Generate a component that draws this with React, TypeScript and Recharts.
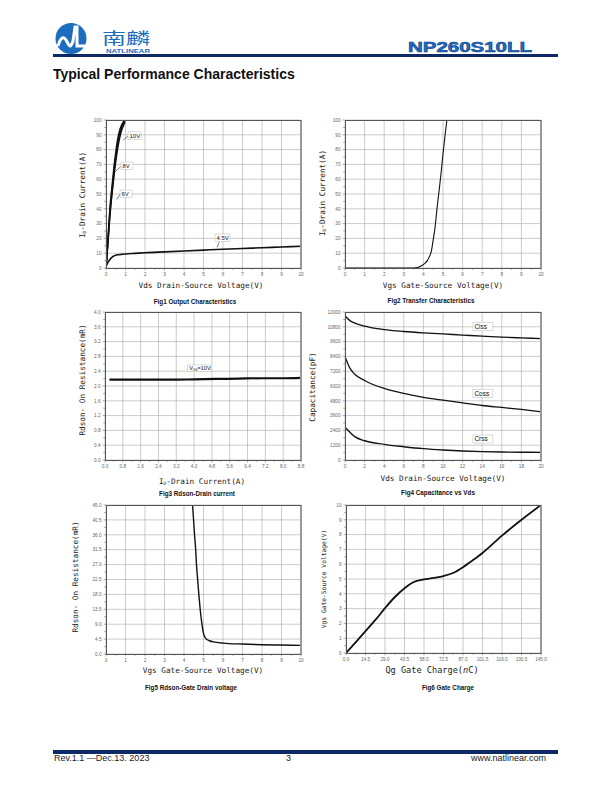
import React from "react";
import {
  LineChart,
  Line,
  XAxis,
  YAxis,
  CartesianGrid,
  ReferenceDot,
  ReferenceLine,
} from "recharts";

// Fig1 output characteristics (Vds in V, Id in A)
const fig1Vds = [0, 0.05, 0.1, 0.15, 0.2, 0.3, 0.4, 0.5, 0.6, 0.7, 0.8, 0.9, 0.97];
const fig1Id10V = [0, 10, 20, 30, 40, 54, 67, 78, 87, 93, 96.5, 98.8, 100];
const fig1Id8V = [0, 9, 18, 28, 37, 51, 64, 75, 84, 90.5, 95, 98, 99.5];
const fig1Id6V = [0, 8.5, 17, 26, 35, 49, 61, 72, 81, 88, 93, 96.5, 98.5];
const fig1Vds45 = [0, 0.05, 0.1, 0.2, 0.3, 0.4, 0.5, 0.6, 0.8, 1, 1.5, 2, 3, 4, 5, 6, 7, 8, 9, 10];
const fig1Id45V = [1, 2.5, 3.8, 5.8, 7.2, 8.1, 8.6, 8.9, 9.2, 9.5, 9.9, 10.3, 10.9, 11.5, 12.1, 12.7, 13.2, 13.7, 14.2, 14.7];
const fig1XTicks = [0, 1, 2, 3, 4, 5, 6, 7, 8, 9, 10];
const fig1YTicks = [0, 10, 20, 30, 40, 50, 60, 70, 80, 90, 100];

// Fig2 transfer characteristics
const fig2Vgs = [0, 1, 2, 3, 3.5, 3.7, 3.9, 4.1, 4.2, 4.3, 4.4, 4.5, 4.6, 4.7, 4.8, 4.9, 5.0, 5.1, 5.2];
const fig2Id = [0, 0, 0, 0, 0, 0.3, 1.5, 3.5, 5, 7.5, 11, 19, 28, 41, 52, 64, 77, 89, 100];
const fig2XTicks = [0, 1, 2, 3, 4, 5, 6, 7, 8, 9, 10];
const fig2YTicks = [0, 10, 20, 30, 40, 50, 60, 70, 80, 90, 100];

// Fig3 Rdson vs drain current
const fig3Id = [0.2, 1, 2, 3, 4, 5, 6, 7, 8, 8.8];
const fig3Rds = [2.17, 2.17, 2.17, 2.17, 2.18, 2.19, 2.2, 2.21, 2.21, 2.22];
const fig3XTicks = [0, 0.8, 1.6, 2.4, 3.2, 4.0, 4.8, 5.6, 6.4, 7.2, 8.0, 8.8];
const fig3YTicks = [0, 0.4, 0.8, 1.2, 1.6, 2.0, 2.4, 2.8, 3.2, 3.6, 4.0];

// Fig4 capacitance vs Vds (pF)
const fig4Vds = [0, 0.5, 1, 2, 4, 6, 8, 10, 12, 14, 16, 18, 20];
const fig4Ciss = [11700, 11300, 11100, 10850, 10570, 10420, 10310, 10220, 10130, 10040, 9960, 9900, 9840];
const fig4Coss = [8400, 7450, 6950, 6450, 5800, 5400, 5080, 4850, 4640, 4420, 4260, 4100, 3910];
const fig4Crss = [2650, 2250, 1900, 1560, 1270, 1080, 920, 810, 730, 680, 650, 630, 620];
const fig4XTicks = [0, 2, 4, 6, 8, 10, 12, 14, 16, 18, 20];
const fig4YTicks = [0, 1200, 2400, 3600, 4800, 6000, 7200, 8400, 9600, 10800, 12000];

// Fig5 Rdson vs Vgs
const fig5Vgs = [4.44, 4.54, 4.6, 4.64, 4.7, 4.76, 4.83, 4.92, 5.0, 5.1, 5.3, 5.6, 6, 7, 8, 9, 10];
const fig5Rds = [45, 36, 31.5, 27, 22.5, 18, 13.5, 9, 6.2, 4.8, 4.0, 3.6, 3.3, 3.0, 2.8, 2.7, 2.6];
const fig5XTicks = [0, 1, 2, 3, 4, 5, 6, 7, 8, 9, 10];
const fig5YTicks = [0, 4.5, 9, 13.5, 18, 22.5, 27, 31.5, 36, 40.5, 45];

// Fig6 gate charge
const fig6Qg = [0, 7, 14.5, 22, 29, 36, 43.5, 50, 58, 65, 72.5, 80, 87, 94, 101.5, 116, 130.5, 145];
const fig6Vgs = [0, 0.7, 1.48, 2.25, 3.03, 3.75, 4.38, 4.78, 4.97, 5.07, 5.2, 5.42, 5.8, 6.25, 6.76, 7.93, 9.0, 10];
const fig6XTicks = [0, 14.5, 29, 43.5, 58, 72.5, 87, 101.5, 116, 130.5, 145];
const fig6YTicks = [0, 1, 2, 3, 4, 5, 6, 7, 8, 9, 10];

type Pt = { x: number; y: number };
type Note = { x: number; y: number; w: number; h: number; size?: number; text: React.ReactNode };

const zip = (xs: number[], ys: number[]): Pt[] => xs.map((x, i) => ({ x, y: ys[i] }));

// majors plus the half-way minor ticks
const withMinor = (major: number[]) => {
  const out: number[] = [];
  major.forEach((m, i) => {
    out.push(m);
    if (i < major.length - 1) out.push((m + major[i + 1]) / 2);
  });
  return out;
};
const isMajor = (list: number[], v: number) => list.some((m) => Math.abs(m - v) < 1e-6);

const ML = 40;
const MT = 8;
const MR = 6;
const MB = 20;
const TICK_FONT = '"Liberation Sans", Arial, sans-serif';

interface PanelProps {
  left: number;
  top: number;
  w: number;
  h: number;
  xTicks: number[];
  yTicks: number[];
  xFmt: (v: number) => string;
  yFmt: (v: number) => string;
  series: { data: Pt[]; width: number }[];
  notes?: Note[];
  arrows?: [Pt, Pt][];
}

function Panel({ left, top, w, h, xTicks, yTicks, xFmt, yFmt, series, notes = [], arrows = [] }: PanelProps) {
  const xDom: [number, number] = [xTicks[0], xTicks[xTicks.length - 1]];
  const yDom: [number, number] = [yTicks[0], yTicks[yTicks.length - 1]];
  return (
    <>
      <div style={{ position: "absolute", left: left - ML, top: top - MT }}>
        <LineChart width={w + ML + MR} height={h + MT + MB} margin={{ top: MT, right: MR, bottom: 0, left: 0 }}>
          <CartesianGrid stroke="#a8a8a8" strokeWidth={0.6} verticalValues={xTicks} horizontalValues={yTicks} />
          <XAxis
            type="number"
            dataKey="x"
            domain={xDom}
            ticks={withMinor(xTicks)}
            interval={0}
            height={MB}
            axisLine={false}
            tickLine={false}
            tickSize={0}
            tickMargin={0}
            allowDataOverflow
            tick={(p: any) => {
              const v = p.payload.value;
              const major = isMajor(xTicks, v);
              return (
                <g>
                  <line x1={p.x} x2={p.x} y1={p.y} y2={p.y + (major ? 2.4 : 1.8)} stroke="#555" strokeWidth={0.5} />
                  {major && (
                    <text x={p.x} y={p.y + 8} textAnchor="middle" fontSize={4.7} fontFamily={TICK_FONT} fill="#666">
                      {xFmt(v)}
                    </text>
                  )}
                </g>
              );
            }}
          />
          <YAxis
            type="number"
            domain={yDom}
            ticks={withMinor(yTicks)}
            interval={0}
            width={ML}
            axisLine={false}
            tickLine={false}
            tickSize={0}
            tickMargin={0}
            allowDataOverflow
            tick={(p: any) => {
              const v = p.payload.value;
              const major = isMajor(yTicks, v);
              return (
                <g>
                  <line x1={p.x} x2={p.x - (major ? 2.4 : 1.8)} y1={p.y} y2={p.y} stroke="#555" strokeWidth={0.5} />
                  {major && (
                    <text x={p.x - 4.5} y={p.y + 1.7} textAnchor="end" fontSize={4.7} fontFamily={TICK_FONT} fill="#666">
                      {yFmt(v)}
                    </text>
                  )}
                </g>
              );
            }}
          />
          {series.map((s, i) => (
            <Line
              key={i}
              data={s.data}
              dataKey="y"
              type="monotone"
              stroke="#111"
              strokeWidth={s.width}
              dot={false}
              isAnimationActive={false}
            />
          ))}
          {arrows.map((a, i) => (
            <ReferenceLine key={"a" + i} segment={a} stroke="#222" strokeWidth={0.6} ifOverflow="visible" />
          ))}
          {notes.map((n, i) => (
            <ReferenceDot
              key={"n" + i}
              x={n.x}
              y={n.y}
              r={0}
              ifOverflow="visible"
              label={(p: any) => {
                const vb = p.viewBox || {};
                return (
                  <g>
                    <rect x={vb.x} y={vb.y} width={n.w} height={n.h} fill="#fff" stroke="#b8b8b8" strokeWidth={0.5} />
                    <text x={vb.x + 1.5} y={vb.y + n.h - 1.7} fontSize={n.size || 6} fontFamily={TICK_FONT} fill="#111">
                      {n.text}
                    </text>
                  </g>
                );
              }}
            />
          ))}
        </LineChart>
      </div>
      <div
        style={{
          position: "absolute",
          left,
          top,
          width: w + 1,
          height: h + 1,
          boxSizing: "border-box",
          borderTop: "1px solid #555",
          borderLeft: "1px solid #555",
          borderBottom: "1px solid #555",
          borderRight: "2px solid #999",
          pointerEvents: "none",
        }}
      />
    </>
  );
}

const AxisTitle = ({ x, y, size = 7.7, rotate = false, children }: any) => (
  <div
    style={{
      position: "absolute",
      left: x,
      top: y,
      transform: `translate(-50%,-50%)${rotate ? " rotate(-90deg)" : ""}`,
      fontFamily: '"DejaVu Sans Mono", monospace',
      fontSize: size,
      lineHeight: 1,
      whiteSpace: "nowrap",
      color: "#222",
    }}
  >
    {children}
  </div>
);

const Caption = ({ x, y, children }: any) => (
  <div
    style={{
      position: "absolute",
      left: x,
      top: y,
      transform: "translate(-50%,-50%)",
      fontFamily: '"Liberation Sans", Arial, sans-serif',
      fontWeight: "bold",
      fontSize: 6.3,
      lineHeight: 1,
      whiteSpace: "nowrap",
      color: "#111",
    }}
  >
    {children}
  </div>
);

const Sub = ({ children }: any) => <span style={{ fontSize: "0.6em", verticalAlign: "-0.25em" }}>{children}</span>;

const intFmt = (v: number) => String(Math.round(v));
const oneFmt = (v: number) => v.toFixed(1);

export default function App() {
  return (
    <div
      style={{
        position: "absolute",
        left: 0,
        top: 0,
        width: 612,
        height: 792,
        background: "#fff",
        fontFamily: '"Liberation Sans", Arial, sans-serif',
      }}
    >
      <svg width={612} height={62} style={{ position: "absolute", left: 0, top: 0 }}>
        <circle cx={71} cy={38.5} r={15.5} fill="#1c6dc0" />
        <path
          d="M58,46 C60,39 63,35 66,40 S70,50 73,41 L75,27 L77,27 L77,46 L88,46"
          stroke="#fff"
          strokeWidth={3}
          fill="none"
        />
        <text
          x={102}
          y={44}
          fontSize={15.5}
          fontFamily='"Noto Sans CJK SC"'
          fill="#1c6dc0"
          textLength={48}
          lengthAdjust="spacingAndGlyphs"
        >
          南麟
        </text>
        <text
          x={106}
          y={52.5}
          fontSize={5}
          fontWeight="bold"
          fontFamily={TICK_FONT}
          fill="#1c6dc0"
          textLength={44}
          lengthAdjust="spacingAndGlyphs"
        >
          NATLINEAR
        </text>
        <text
          x={408}
          y={51.5}
          fontSize={14}
          fontWeight="bold"
          fontFamily={TICK_FONT}
          fill="#1e70d2"
          stroke="#0c3570"
          strokeWidth={0.5}
          textLength={124}
          lengthAdjust="spacingAndGlyphs"
        >
          NP260S10LL
        </text>
        <rect x={53} y={54} width={505} height={3} fill="#0d2a66" />
      </svg>

      <div style={{ position: "absolute", left: 53, top: 67, fontSize: 14, fontWeight: "bold", lineHeight: 1, color: "#111" }}>
        Typical Performance Characteristics
      </div>

      {/* Fig1 */}
      <Panel
        left={106}
        top={120}
        w={195}
        h={148}
        xTicks={fig1XTicks}
        yTicks={fig1YTicks}
        xFmt={intFmt}
        yFmt={intFmt}
        series={[
          { data: zip(fig1Vds, fig1Id6V), width: 1.5 },
          { data: zip(fig1Vds, fig1Id8V), width: 1.5 },
          { data: zip(fig1Vds, fig1Id10V), width: 1.5 },
          { data: zip(fig1Vds45, fig1Id45V), width: 1.6 },
        ]}
        arrows={[
          [{ x: 0.89, y: 86.5 }, { x: 1.14, y: 89.2 }],
          [{ x: 0.46, y: 65 }, { x: 0.75, y: 68.4 }],
          [{ x: 0.55, y: 46.4 }, { x: 0.77, y: 50.5 }],
          [{ x: 5.69, y: 14 }, { x: 5.8, y: 17.4 }],
        ]}
        notes={[
          { x: 1.13, y: 92, w: 13, h: 7.5, text: "10V" },
          { x: 0.77, y: 71.6, w: 12, h: 7.5, text: "8V" },
          { x: 0.72, y: 52.7, w: 12, h: 7.5, text: "6V" },
          { x: 5.59, y: 23, w: 15, h: 7.5, text: "4.5V" },
        ]}
      />
      <AxisTitle x={201} y={286}>Vds Drain-Source Voltage(V)</AxisTitle>
      <AxisTitle x={83} y={195} rotate>
        I<Sub>D</Sub>-Drain Current(A)
      </AxisTitle>
      <Caption x={195} y={302}>Fig1 Output Characteristics</Caption>

      {/* Fig2 */}
      <Panel
        left={345}
        top={120}
        w={196}
        h={148}
        xTicks={fig2XTicks}
        yTicks={fig2YTicks}
        xFmt={intFmt}
        yFmt={intFmt}
        series={[{ data: zip(fig2Vgs, fig2Id), width: 1.1 }]}
      />
      <AxisTitle x={443} y={286}>Vgs Gate-Source Voltage(V)</AxisTitle>
      <AxisTitle x={323} y={193} rotate>
        I<Sub>D</Sub>-Drain Current(A)
      </AxisTitle>
      <Caption x={431} y={301}>Fig2 Transfer Characteristics</Caption>

      {/* Fig3 */}
      <Panel
        left={105}
        top={312}
        w={196}
        h={148}
        xTicks={fig3XTicks}
        yTicks={fig3YTicks}
        xFmt={oneFmt}
        yFmt={oneFmt}
        series={[{ data: zip(fig3Id, fig3Rds), width: 2.2 }]}
        notes={[
          {
            x: 3.71,
            y: 2.57,
            w: 23,
            h: 6.7,
            size: 5.5,
            text: (
              <>
                V<tspan dy={1.2} fontSize={3.3}>GS</tspan>
                <tspan dy={-1.2}>=10V</tspan>
              </>
            ),
          },
        ]}
      />
      <AxisTitle x={202} y={482}>
        I<Sub>D</Sub>-Drain Current(A)
      </AxisTitle>
      <AxisTitle x={83} y={380} rotate>Rdson- On Resistance(mR)</AxisTitle>
      <Caption x={197} y={494}>Fig3 Rdson-Drain current</Caption>

      {/* Fig4 */}
      <Panel
        left={345}
        top={312}
        w={196}
        h={148}
        xTicks={fig4XTicks}
        yTicks={fig4YTicks}
        xFmt={intFmt}
        yFmt={intFmt}
        series={[
          { data: zip(fig4Vds, fig4Ciss), width: 1.3 },
          { data: zip(fig4Vds, fig4Coss), width: 1.3 },
          { data: zip(fig4Vds, fig4Crss), width: 1.4 },
        ]}
        notes={[
          { x: 13.05, y: 11132, w: 20, h: 8, size: 6.5, text: "Ciss" },
          { x: 13.05, y: 5732, w: 20, h: 8, size: 6.5, text: "Coss" },
          { x: 13.05, y: 2027, w: 20, h: 8, size: 6.5, text: "Crss" },
        ]}
      />
      <AxisTitle x={443} y={479}>Vds Drain-Source Voltage(V)</AxisTitle>
      <AxisTitle x={313} y={387} rotate>Capacitance(pF)</AxisTitle>
      <Caption x={438} y={493}>Fig4 Capacitance vs Vds</Caption>

      {/* Fig5 */}
      <Panel
        left={106}
        top={505}
        w={195}
        h={149}
        xTicks={fig5XTicks}
        yTicks={fig5YTicks}
        xFmt={intFmt}
        yFmt={oneFmt}
        series={[{ data: zip(fig5Vgs, fig5Rds), width: 1.4 }]}
      />
      <AxisTitle x={203} y={671}>Vgs Gate-Source Voltage(V)</AxisTitle>
      <AxisTitle x={76} y={577} rotate>Rdson- On Resistance(mR)</AxisTitle>
      <Caption x={191} y={688}>Fig5 Rdson-Gate Drain voltage</Caption>

      {/* Fig6 */}
      <Panel
        left={346}
        top={505}
        w={195}
        h={148}
        xTicks={fig6XTicks}
        yTicks={fig6YTicks}
        xFmt={oneFmt}
        yFmt={intFmt}
        series={[{ data: zip(fig6Qg, fig6Vgs), width: 1.8 }]}
      />
      <AxisTitle x={432} y={670} size={8.6}>
        Qg Gate Charge(<i>n</i>C)
      </AxisTitle>
      <AxisTitle x={324} y={579} size={6.3} rotate>Vgs Gate-Source Voltage(V)</AxisTitle>
      <Caption x={448} y={688}>Fig6 Gate Charge</Caption>

      {/* footer */}
      <div style={{ position: "absolute", left: 53, top: 750, width: 505, height: 3.5, background: "#0d2a66" }} />
      <div style={{ position: "absolute", left: 54, top: 754, fontSize: 9, lineHeight: 1, color: "#222" }}>
        Rev.1.1 —Dec.13. 2023
      </div>
      <div style={{ position: "absolute", left: 286, top: 754, fontSize: 9, lineHeight: 1, color: "#222" }}>3</div>
      <div style={{ position: "absolute", right: 612 - 546, top: 754, fontSize: 9, lineHeight: 1, color: "#222" }}>
        www.natlinear.com
      </div>
    </div>
  );
}
